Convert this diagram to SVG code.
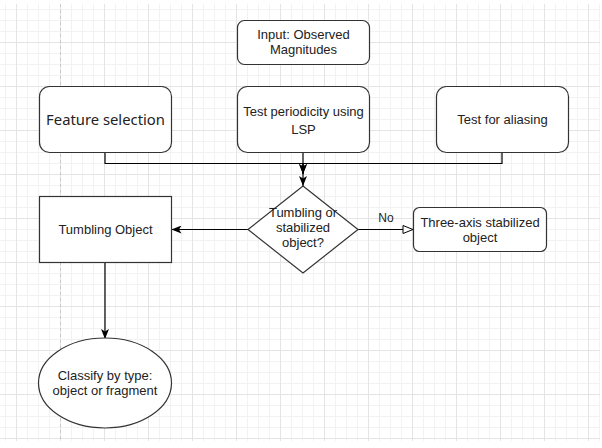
<svg xmlns="http://www.w3.org/2000/svg" width="602" height="448" viewBox="0 0 602 448">
<style>
.box{fill:#fff;stroke:#333;stroke-width:1.2}
.t{font-family:"Liberation Sans",Arial,sans-serif;font-size:13px;fill:#222;text-anchor:middle}
.t2{font-family:"Noto Sans","Open Sans",sans-serif;font-size:14.8px;fill:#222;text-anchor:middle}
.c{fill:none;stroke:#000;stroke-width:1.2}
</style>
<defs>
<pattern id="grid" patternUnits="userSpaceOnUse" x="16" y="42" width="44" height="44">
<rect x="11" y="0" width="1" height="44" fill="#f2f2f2"/>
<rect x="22" y="0" width="1" height="44" fill="#f2f2f2"/>
<rect x="33" y="0" width="1" height="44" fill="#f2f2f2"/>
<rect x="0" y="11" width="44" height="1" fill="#f2f2f2"/>
<rect x="0" y="22" width="44" height="1" fill="#f2f2f2"/>
<rect x="0" y="33" width="44" height="1" fill="#f2f2f2"/>
<rect x="0" y="0" width="1" height="44" fill="#e4e4e4"/>
<rect x="0" y="0" width="44" height="1" fill="#e4e4e4"/>
</pattern>
<marker id="arr" viewBox="0 0 10 8" refX="10" refY="4" markerWidth="10" markerHeight="8" markerUnits="userSpaceOnUse" orient="auto">
<path d="M0,0 L10,4 L0,8 L2.5,4 z" fill="#000"/>
</marker>
<marker id="open" viewBox="-1 -1 12 10" refX="10" refY="4" markerWidth="12" markerHeight="10" markerUnits="userSpaceOnUse" orient="auto">
<path d="M0,0 L10,4 L0,8 z" fill="#fff" stroke="#000" stroke-width="1"/>
</marker>
</defs>
<rect width="602" height="448" fill="#fff"/>
<rect x="0" y="4" width="600" height="437" fill="url(#grid)"/>
<line x1="60.5" y1="4" x2="60.5" y2="441" stroke="#c8c8c8" stroke-width="1" stroke-dasharray="3,3"/>

<g id="connectors">
<path class="c" d="M105,152 V163.5 H303 V174" marker-end="url(#arr)"/>
<path class="c" d="M502,152 V163.5 H303 V174" marker-end="url(#arr)"/>
<path class="c" d="M303,152 V186" marker-end="url(#arr)"/>
<path class="c" d="M248,229.5 H171.5" marker-end="url(#arr)"/>
<path class="c" d="M358,229.5 H413" marker-end="url(#open)"/>
<text class="t" x="386" y="222" style="font-size:12px">No</text>
<path class="c" d="M105,262 V339" marker-end="url(#arr)"/>
</g>

<g id="input">
<rect class="box" x="237.5" y="20.5" width="132" height="44" rx="7"/>
<text class="t" x="303.5" y="39">Input: Observed</text>
<text class="t" x="303.5" y="54">Magnitudes</text>
</g>
<g id="feature">
<rect class="box" x="39.5" y="86.5" width="132" height="66" rx="10"/>
<text class="t2" x="105.5" y="124.5">Feature selection</text>
</g>
<g id="lsp">
<rect class="box" x="237.5" y="86.5" width="132" height="66" rx="10"/>
<text class="t" x="303.5" y="116">Test periodicity using</text>
<text class="t" x="303.5" y="134">LSP</text>
</g>
<g id="aliasing">
<rect class="box" x="436.5" y="86.5" width="132" height="66" rx="10"/>
<text class="t" x="502.5" y="124">Test for aliasing</text>
</g>
<g id="decision">
<polygon class="box" points="303,186 358,229.5 303,273 248,229.5"/>
<text class="t" x="303" y="217">Tumbling or</text>
<text class="t" x="303" y="232">stabilized</text>
<text class="t" x="303" y="247">object?</text>
</g>
<g id="tumbling">
<rect class="box" x="39.5" y="196.5" width="132" height="66"/>
<text class="t" x="105.5" y="233.5">Tumbling Object</text>
</g>
<g id="threeaxis">
<rect class="box" x="413.5" y="207.5" width="133" height="44" rx="6"/>
<text class="t" x="480" y="227">Three-axis stabilized</text>
<text class="t" x="480" y="242">object</text>
</g>
<g id="classify">
<ellipse class="box" cx="105" cy="383" rx="66.5" ry="45"/>
<text class="t" x="105" y="380">Classify by type:</text>
<text class="t" x="105" y="395">object or fragment</text>
</g>
</svg>
